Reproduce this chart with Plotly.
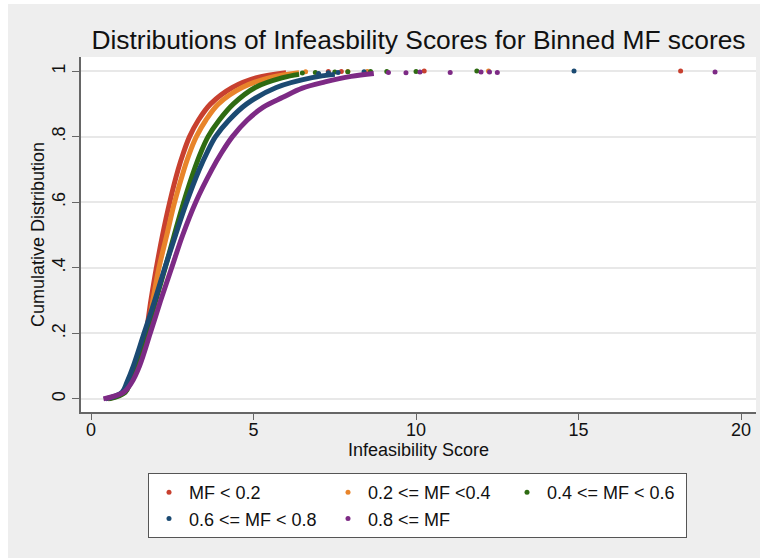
import plotly.graph_objects as go

# ---------------- data ----------------
groups = ["MF < 0.2", "0.2 <= MF <0.4", "0.4 <= MF < 0.6", "0.6 <= MF < 0.8", "0.8 <= MF"]
colors = ["#c8402f", "#e8842a", "#2e6b12", "#1b4a72", "#7d2a85"]

# main body of each empirical CDF: (score, cumulative share)
red_x = [0.5, 1.0, 1.15, 1.35, 1.68, 1.84, 2.01, 2.2, 2.42, 2.68, 2.84, 3.03, 3.3, 3.68, 4.35, 5.1, 6.0]
red_y = [0.0, 0.02, 0.05, 0.10, 0.20, 0.30, 0.40, 0.50, 0.60, 0.70, 0.75, 0.80, 0.85, 0.90, 0.95, 0.98, 0.995]

orange_x = [0.5, 1.02, 1.2, 1.4, 1.72, 1.9, 2.09, 2.33, 2.57, 2.86, 3.03, 3.24, 3.53, 3.92, 4.65, 5.5, 6.4]
orange_y = [0.0, 0.02, 0.05, 0.10, 0.20, 0.30, 0.40, 0.50, 0.60, 0.70, 0.75, 0.80, 0.85, 0.90, 0.95, 0.98, 0.995]

green_x = [0.55, 1.05, 1.2, 1.4, 1.7, 1.99, 2.28, 2.56, 2.85, 3.18, 3.37, 3.6, 3.94, 4.38, 5.05, 5.9, 6.4]
green_y = [0.0, 0.02, 0.05, 0.10, 0.20, 0.30, 0.40, 0.50, 0.60, 0.70, 0.75, 0.80, 0.85, 0.90, 0.95, 0.98, 0.99]

blue_x = [0.45, 0.95, 1.1, 1.3, 1.63, 1.96, 2.27, 2.6, 2.94, 3.33, 3.56, 3.83, 4.24, 4.79, 5.7, 6.8, 7.5]
blue_y = [0.0, 0.02, 0.05, 0.10, 0.20, 0.30, 0.40, 0.50, 0.60, 0.70, 0.75, 0.80, 0.85, 0.90, 0.95, 0.98, 0.99]

purple_x = [0.38, 1.0, 1.25, 1.49, 1.82, 2.14, 2.48, 2.82, 3.22, 3.72, 4.01, 4.35, 4.8, 5.3, 5.9, 6.5, 7.2, 8.0, 8.7]
purple_y = [0.0, 0.02, 0.05, 0.10, 0.20, 0.30, 0.40, 0.50, 0.60, 0.70, 0.75, 0.80, 0.85, 0.89, 0.92, 0.948, 0.967, 0.984, 0.993]

# sparse upper-tail observations
red_tail_x = [7.3, 7.7, 10.25, 18.14]
red_tail_y = [0.999, 0.999, 1.0, 1.0]
orange_tail_x = [6.6, 7.9, 8.5, 12.23]
orange_tail_y = [0.998, 0.999, 0.999, 1.0]
green_tail_x = [6.5, 6.9, 7.5, 7.9, 8.6, 9.1, 10.0, 11.87]
green_tail_y = [0.994, 0.996, 0.997, 0.998, 0.999, 0.999, 0.999, 1.0]
blue_tail_x = [7.0, 7.3, 7.6, 8.4, 14.86]
blue_tail_y = [0.993, 0.995, 0.996, 0.998, 1.0]
purple_tail_x = [9.15, 9.69, 10.12, 11.05, 12.0, 12.26, 12.5, 19.2]
purple_tail_y = [0.996, 0.995, 0.997, 0.996, 0.997, 0.997, 0.996, 0.997]

x_ticks = [0, 5, 10, 15, 20]
y_ticks = [0, 0.2, 0.4, 0.6, 0.8, 1.0]
y_ticktext = ["0", ".2", ".4", ".6", ".8", "1"]

bodies = [(red_x, red_y), (orange_x, orange_y), (green_x, green_y), (blue_x, blue_y), (purple_x, purple_y)]
tails = [(red_tail_x, red_tail_y), (orange_tail_x, orange_tail_y), (green_tail_x, green_tail_y),
         (blue_tail_x, blue_tail_y), (purple_tail_x, purple_tail_y)]

# ---------------- figure ----------------
FONT = "Liberation Sans, Arial, Helvetica, sans-serif"
fig = go.Figure()
for name, col, (bx, by), (tx, ty) in zip(groups, colors, bodies, tails):
    fig.add_trace(go.Scatter(x=bx, y=by, mode="lines", name=name, legendgroup=name,
                             showlegend=False, line=dict(color=col, width=5, shape="spline", smoothing=1.0),
                             hoverinfo="skip"))
    fig.add_trace(go.Scatter(x=tx, y=ty, mode="markers", name=name, legendgroup=name,
                             marker=dict(color=col, size=5)))

W, H = 764, 558
ML, MR, MT, MB = 81, 8, 57, 146
pw, ph = W - ML - MR, H - MT - MB

def px(x):
    return (x - ML) / pw

def py(y):
    return (H - MB - y) / ph

gray = "#eeeeee"
shapes = [
    dict(type="rect", xref="paper", yref="paper", x0=px(-5), x1=px(8), y0=py(H + 5), y1=py(-5),
         fillcolor="white", line=dict(width=0), layer="below"),
    dict(type="rect", xref="paper", yref="paper", x0=px(-5), x1=px(W + 5), y0=py(4), y1=py(-5),
         fillcolor="white", line=dict(width=0), layer="below"),
    dict(type="rect", xref="paper", yref="paper", x0=px(760), x1=px(W + 5), y0=py(H + 5), y1=py(-5),
         fillcolor="white", line=dict(width=0), layer="below"),
]

fig.update_layout(
    width=W, height=H,
    margin=dict(l=ML, r=MR, t=MT, b=MB, pad=0),
    paper_bgcolor=gray, plot_bgcolor="white",
    font=dict(family=FONT, color="#111111", size=18),
    title=dict(text="Distributions of Infeasbility Scores for Binned MF scores",
               x=418.5 / W, xanchor="center", y=1 - 40 / H, yanchor="middle", yref="container",
               font=dict(size=26.4, family=FONT, color="#111111")),
    shapes=shapes,
    showlegend=True,
    legend=dict(orientation="h", x=px(148), xanchor="left", y=py(473), yanchor="top",
                bgcolor="white", bordercolor="#555555", borderwidth=1,
                entrywidth=134, entrywidthmode="pixels",
                font=dict(size=18, family=FONT, color="#111111"), traceorder="normal"),
    xaxis=dict(range=[-0.31, 20.46], tickvals=x_ticks, ticks="outside", ticklen=6, tickwidth=1,
               tickcolor="#666666", showline=True, linecolor="#666666", linewidth=1.5,
               showgrid=False, zeroline=False, tickfont=dict(size=18), ticklabelstandoff=-5,
               title=dict(text="Infeasibility Score", font=dict(size=18), standoff=0)),
    yaxis=dict(range=[-0.04, 1.043], tickvals=y_ticks, ticktext=y_ticktext, tickangle=-90,
               ticks="outside", ticklen=7, tickwidth=1, tickcolor="#666666", showline=True,
               linecolor="#666666", linewidth=1.5, showgrid=True, gridcolor="#e8e8e8", gridwidth=1.5,
               zeroline=False, tickfont=dict(size=18),
               title=dict(text="Cumulative Distribution", font=dict(size=18), standoff=0)),
)

fig.write_html("out.html")
